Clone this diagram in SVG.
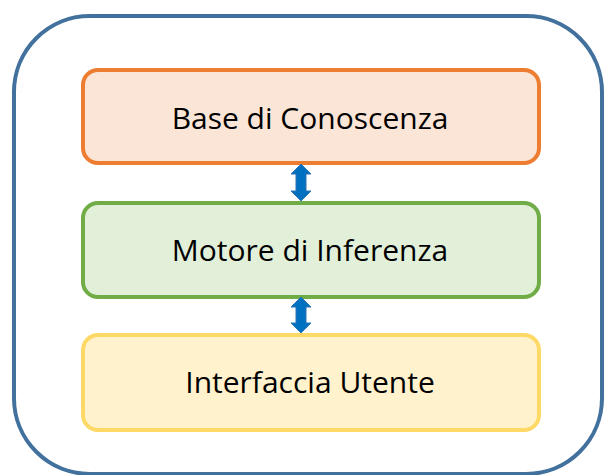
<svg xmlns="http://www.w3.org/2000/svg" width="604" height="475" viewBox="0 0 604 475">
<style>
.box{stroke-width:4}
.lbl{font-family:"Open Sans","Liberation Sans",sans-serif;font-size:30px;fill:#000;text-anchor:middle}
.arr{fill:#0070C0;stroke:#2E75B6;stroke-width:1}
</style>
<rect x="14" y="16" width="588" height="458" rx="76" ry="76" fill="#fff" stroke="#41719C" stroke-width="4"/>
<g id="base">
<rect class="box" x="83" y="70" width="456" height="93" rx="15" fill="#FBE5D6" stroke="#ED7D31"/>
<text class="lbl" x="310" y="129">Base di Conoscenza</text>
</g>
<g id="motore">
<rect class="box" x="83" y="203" width="456" height="94" rx="15" fill="#E2F0D9" stroke="#70AD47"/>
<text class="lbl" x="310" y="261">Motore di Inferenza</text>
</g>
<g id="interfaccia">
<rect class="box" x="83" y="335" width="456" height="95" rx="15" fill="#FFF2CC" stroke="#FFD966"/>
<text class="lbl" x="310" y="393">Interfaccia Utente</text>
</g>
<g id="connectors">
<path class="arr" d="M301,164 L311,174 L306,174 L306,191 L311,191 L301,201 L291,191 L296,191 L296,174 L291,174 Z"/>
<path class="arr" d="M301,297 L311,307 L306,307 L306,323 L311,323 L301,333 L291,323 L296,323 L296,307 L291,307 Z"/>
</g>
</svg>
